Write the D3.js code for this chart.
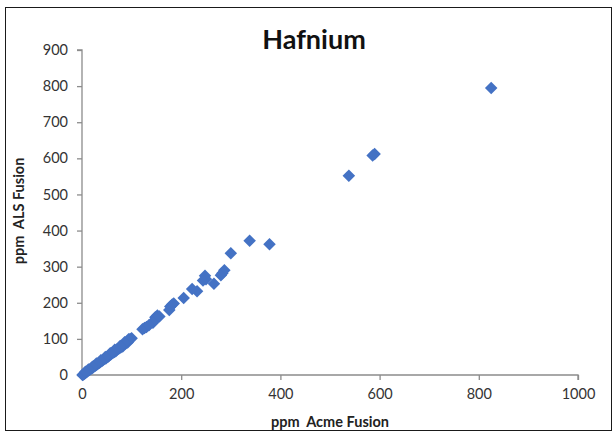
<!DOCTYPE html>
<html>
<head>
<meta charset="utf-8">
<script src="https://cdn.jsdelivr.net/npm/d3@7"></script>
<style>
  html, body { margin: 0; padding: 0; background: #fff; }
  svg { display: block; }
  text { font-family: Lato, "Open Sans", "Liberation Sans", sans-serif; white-space: pre; }
</style>
</head>
<body>
<svg id="chart" width="615" height="435"></svg>
<script>
// Hafnium: Acme fusion vs ALS fusion (ppm)
const acme = [
  825, 590, 586, 538, 378, 338, 300, 287, 283, 280, 266, 248, 250, 244, 232, 222,
  205, 182, 178, 176, 185, 152, 148, 145, 156, 150, 143, 130, 126, 122, 135,
  100, 97, 95, 92, 90, 88, 85, 82, 80, 78, 75, 72, 70, 68, 65, 62, 60, 58, 55,
  53, 50, 48, 45, 42, 40, 37, 35, 32, 30, 28, 26, 24, 22, 20, 18, 16, 14, 12,
  10, 8, 6, 4, 2, 1,
  94, 86, 77, 66, 57, 47, 38, 29, 21, 13, 7
];
const als = [
  795, 612, 608, 552, 362, 372, 337, 290, 282, 276, 253, 275, 265, 262, 232, 238,
  213, 195, 190, 180, 198, 165, 160, 150, 162, 157, 145, 133, 130, 127, 138,
  102, 100, 97, 90, 92, 87, 86, 79, 80, 76, 74, 71, 70, 66, 64, 61, 60, 57, 54,
  51, 49, 46, 44, 41, 39, 36, 34, 31, 29, 27, 25, 24, 21, 19, 17, 15, 13, 12,
  9, 7, 5, 3, 1, 0,
  99, 91, 80, 70, 60, 50, 41, 32, 23, 15, 9
];
const xTicks = [0, 200, 400, 600, 800, 1000];
const yTicks = [0, 100, 200, 300, 400, 500, 600, 700, 800, 900];

const svg = d3.select("#chart");
const W = 615, H = 435;
const plot = { left: 82, right: 578, top: 50, bottom: 375 };

svg.append("rect").attr("width", W).attr("height", H).attr("fill", "#fff");
svg.append("rect")
  .attr("x", 5.5).attr("y", 7.5).attr("width", 606).attr("height", 423)
  .attr("fill", "none").attr("stroke", "#1a1a1a").attr("stroke-width", 1);

const x = d3.scaleLinear().domain([0, 1000]).range([plot.left, plot.right]);
const y = d3.scaleLinear().domain([0, 900]).range([plot.bottom, plot.top]);

const axisColor = "#8c8c8c";
const gx = svg.append("g").attr("transform", `translate(0,${plot.bottom})`)
  .call(d3.axisBottom(x).tickValues(xTicks).tickSize(5).tickPadding(9).tickFormat(d3.format("d")));
const gy = svg.append("g").attr("transform", `translate(${plot.left},0)`)
  .call(d3.axisLeft(y).tickValues(yTicks).tickSize(5).tickPadding(9).tickFormat(d3.format("d")));
[gx, gy].forEach(g => {
  g.select(".domain").attr("stroke", axisColor).attr("stroke-width", 1.3);
  g.selectAll(".tick line").attr("stroke", axisColor).attr("stroke-width", 1.3);
  g.selectAll(".tick text").attr("fill", "#333").attr("font-size", 14.5)
    .style("font-family", "Lato, 'Open Sans', sans-serif");
});
gy.select(".domain").attr("d", `M-5,${plot.top}H0V${plot.bottom}`);
gx.select(".domain").attr("d", `M${plot.left},0H${plot.right}V5`);

// diamond markers
const data = acme.map((a, i) => ({ a, b: als[i] }));
const diamond = d3.symbol().type(d3.symbolDiamond2).size(100);
svg.append("g").selectAll("path").data(data).join("path")
  .attr("d", diamond)
  .attr("transform", d => `translate(${x(d.a)},${y(d.b)})`)
  .attr("fill", "#4472c4");

svg.append("text")
  .attr("x", 314).attr("y", 49).attr("text-anchor", "middle")
  .attr("font-size", 27).attr("font-weight", "bold").attr("fill", "#111")
  .text("Hafnium");

svg.append("text")
  .attr("x", 330).attr("y", 427).attr("text-anchor", "middle")
  .attr("font-size", 14.5).attr("font-weight", "bold").attr("fill", "#222")
  .text("ppm  Acme Fusion");

svg.append("text")
  .attr("transform", "translate(24,211) rotate(-90)").attr("text-anchor", "middle")
  .attr("font-size", 14.5).attr("font-weight", "bold").attr("fill", "#222")
  .text("ppm  ALS Fusion");
</script>
</body>
</html>
